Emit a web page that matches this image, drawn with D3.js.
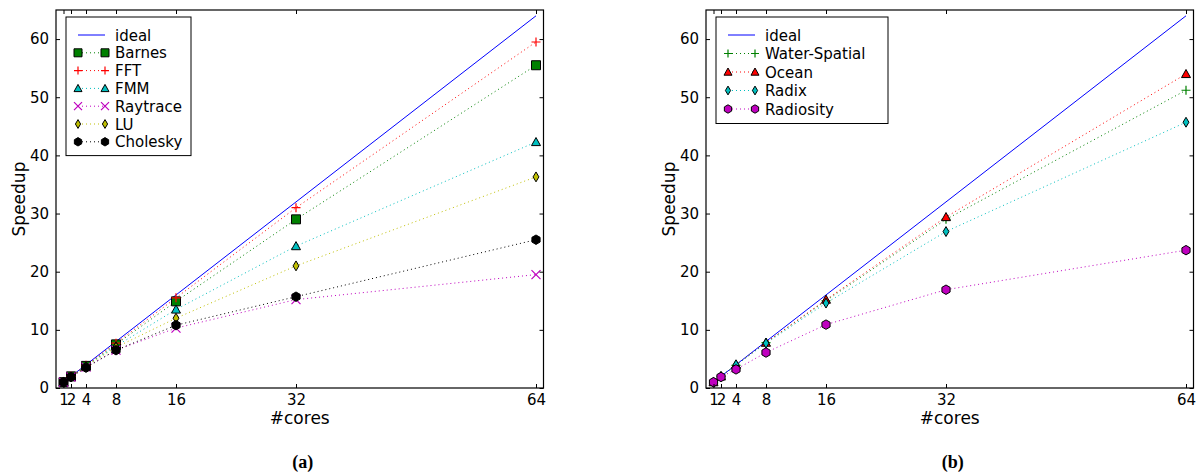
<!DOCTYPE html>
<html>
<head>
<meta charset="utf-8">
<script src="https://cdn.jsdelivr.net/npm/d3@7"></script>
<style>
  body { margin: 0; background: #fff; }
  svg { font-family: "DejaVu Sans", sans-serif; }
  .caption { font-family: "Liberation Serif", serif; font-weight: bold; font-size: 18px; }
</style>
</head>
<body>
<svg id="chart" width="1199" height="474"></svg>
<script>
// Data (speedup vs number of cores)
var cores = [1, 2, 4, 8, 16, 32, 64];
var xTicks = [1, 2, 4, 8, 16, 32, 64];
var yTicks = [0, 10, 20, 30, 40, 50, 60];

var ideal = [1, 2, 4, 8, 16, 32, 64];

// panel (a)
var barnes    = [1, 2, 3.8, 7.5, 14.9, 29.0, 55.5];
var fft       = [1, 2, 3.9, 7.7, 15.5, 31.0, 59.5];
var fmm       = [1, 1.9, 3.8, 7.2, 13.5, 24.4, 42.3];
var raytrace  = [1, 1.9, 3.6, 6.5, 10.3, 15.2, 19.5];
var lu        = [1, 1.9, 3.7, 7.0, 12.0, 21.0, 36.3];
var cholesky  = [1, 1.9, 3.5, 6.5, 10.8, 15.7, 25.5];

// panel (b)
var waterSpatial = [1, 2, 3.9, 7.8, 15.0, 29.0, 51.2];
var ocean        = [1, 2, 4.0, 7.8, 15.2, 29.4, 54.0];
var radix        = [1, 2, 4.0, 7.7, 14.6, 26.9, 45.7];
var radiosity    = [1, 1.9, 3.2, 6.1, 10.9, 16.9, 23.7];

var panelA = [
  {label: "Barnes",   values: barnes,   color: "#008000", marker: "square"},
  {label: "FFT",      values: fft,      color: "#ff0000", marker: "plus"},
  {label: "FMM",      values: fmm,      color: "#00bfbf", marker: "triangle"},
  {label: "Raytrace", values: raytrace, color: "#bf00bf", marker: "cross"},
  {label: "LU",       values: lu,       color: "#bfbf00", marker: "diamond"},
  {label: "Cholesky", values: cholesky, color: "#000000", marker: "hexagon"}
];
var panelB = [
  {label: "Water-Spatial", values: waterSpatial, color: "#008000", marker: "plus"},
  {label: "Ocean",         values: ocean,        color: "#ff0000", marker: "triangle"},
  {label: "Radix",         values: radix,        color: "#00bfbf", marker: "diamond"},
  {label: "Radiosity",     values: radiosity,    color: "#bf00bf", marker: "hexagon"}
];

var svg = d3.select("#chart");

//--------------------------------------
// Markers
//--------------------------------------

function markerPath(type, r) {
  switch(type) {
    case "square": return "M" + -r + "," + -r + "H" + r + "V" + r + "H" + -r + "Z";
    case "triangle": return "M0," + -r + "L" + r + "," + (r * 0.8) + "L" + -r + "," + (r * 0.8) + "Z";
    case "diamond": return "M0," + -r * 1.1 + "L" + r * 0.65 + ",0L0," + r * 1.1 + "L" + -r * 0.65 + ",0Z";
    case "hexagon":
      var pts = d3.range(6).map(function(i) {
        var a = Math.PI / 3 * i - Math.PI / 2;
        return [r * 1.05 * Math.cos(a), r * 1.05 * Math.sin(a)];
      });
      return "M" + pts.join("L") + "Z";
    case "plus": return "M" + -r + ",0H" + r + "M0," + -r + "V" + r;
    case "cross": return "M" + -r + "," + -r + "L" + r + "," + r + "M" + r + "," + -r + "L" + -r + "," + r;
  }
}

function drawMarker(g, type, color, x, y, r) {
  var open = (type == "plus" || type == "cross");
  g.append("path")
    .attr("transform", "translate(" + x + "," + y + ")")
    .attr("d", markerPath(type, r || 4.5))
    .attr("fill", open ? "none" : color)
    .attr("stroke", open ? color : "#000")
    .attr("stroke-width", open ? 1.2 : 1);
}

//--------------------------------------
// Panel
//--------------------------------------

function drawPanel(opts) {
  var left = opts.left, right = opts.right, top = 10, bottom = 388;
  var x = d3.scaleLinear().domain([0, 65]).range([left, right]);
  var y = d3.scaleLinear().domain([0, 65]).range([bottom, top]);
  var g = svg.append("g");

  // series lines
  var line = d3.line()
    .x(function(d, i) { return x(cores[i]); })
    .y(function(d) { return y(d); });

  g.append("path")
    .attr("d", line(ideal))
    .attr("fill", "none")
    .attr("stroke", "#0000ff")
    .attr("stroke-width", 1);

  opts.series.forEach(function(s) {
    g.append("path")
      .attr("d", line(s.values))
      .attr("fill", "none")
      .attr("stroke", s.color)
      .attr("stroke-width", 1)
      .attr("stroke-dasharray", "1,3");
  });
  opts.series.forEach(function(s) {
    s.values.forEach(function(v, i) {
      drawMarker(g, s.marker, s.color, x(cores[i]), y(v));
    });
  });

  // axes with inward ticks on all four sides
  var fmt = function(d) { return d; };
  g.append("g").attr("transform", "translate(0," + bottom + ")")
    .call(d3.axisBottom(x).tickValues(xTicks).tickSizeInner(-4).tickSizeOuter(0).tickPadding(6).tickFormat(fmt));
  g.append("g").attr("transform", "translate(0," + top + ")")
    .call(d3.axisTop(x).tickValues(xTicks).tickSizeInner(-4).tickSizeOuter(0).tickFormat(""));
  g.append("g").attr("transform", "translate(" + left + ",0)")
    .call(d3.axisLeft(y).tickValues(yTicks).tickSizeInner(-4).tickSizeOuter(0).tickPadding(7).tickFormat(fmt));
  g.append("g").attr("transform", "translate(" + right + ",0)")
    .call(d3.axisRight(y).tickValues(yTicks).tickSizeInner(-4).tickSizeOuter(0).tickFormat(""));

  g.selectAll(".domain").remove();
  g.selectAll(".tick line").attr("stroke", "#000");
  g.selectAll(".tick text").attr("fill", "#000").style("font-size", "15px").style("font-family", "DejaVu Sans");

  g.append("rect")
    .attr("x", left).attr("y", top)
    .attr("width", right - left).attr("height", bottom - top)
    .attr("fill", "none").attr("stroke", "#000").attr("stroke-width", 1.2);

  // labels
  g.append("text")
    .attr("x", (left + right) / 2).attr("y", 424)
    .attr("text-anchor", "middle")
    .style("font-size", "17px")
    .text("#cores");
  g.append("text")
    .attr("transform", "translate(" + (left - 31) + "," + ((top + bottom) / 2) + ") rotate(-90)")
    .attr("text-anchor", "middle")
    .style("font-size", "17px")
    .text("Speedup");
  g.append("text")
    .attr("class", "caption")
    .attr("x", (left + right) / 2 + 3).attr("y", 468)
    .attr("text-anchor", "middle")
    .text(opts.caption);

  // legend
  var lg = g.append("g");
  var lx = left + 10, ly = 17;
  var entries = [{label: "ideal", color: "#0000ff", marker: null}].concat(opts.series);
  lg.append("rect")
    .attr("x", lx).attr("y", ly)
    .attr("width", opts.legendWidth)
    .attr("height", 14 + entries.length * opts.legendStep)
    .attr("fill", "#fff").attr("stroke", "#000").attr("stroke-width", 1);
  entries.forEach(function(e, i) {
    var cy = ly + 18 + i * opts.legendStep;
    var x0 = lx + 12, x1 = lx + 39;
    lg.append("line")
      .attr("x1", x0).attr("x2", x1).attr("y1", cy).attr("y2", cy)
      .attr("stroke", e.color).attr("stroke-width", 1)
      .attr("stroke-dasharray", e.marker ? "1,3" : null);
    if(e.marker) {
      drawMarker(lg, e.marker, e.color, x0, cy, 4);
      drawMarker(lg, e.marker, e.color, x1, cy, 4);
    }
    lg.append("text")
      .attr("x", lx + 49).attr("y", cy + 5.5)
      .style("font-size", "15px")
      .text(e.label);
  });
}

drawPanel({left: 56, right: 543.5, series: panelA, caption: "(a)", legendWidth: 125, legendStep: 17.8});
drawPanel({left: 706, right: 1193.5, series: panelB, caption: "(b)", legendWidth: 172, legendStep: 18.5});
</script>
</body>
</html>
